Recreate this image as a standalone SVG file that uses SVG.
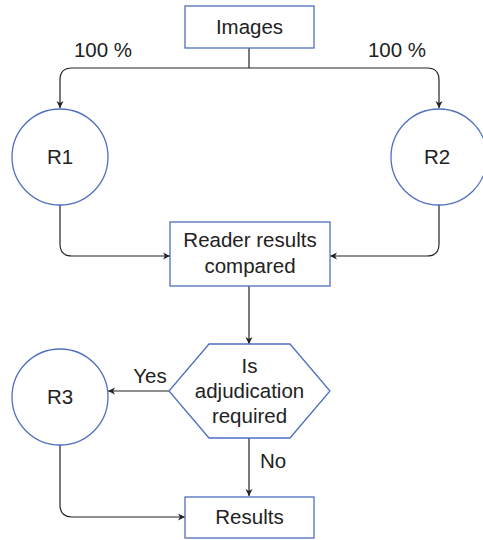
<svg xmlns="http://www.w3.org/2000/svg" width="483" height="540" viewBox="0 0 483 540">
  <defs>
    <marker id="arrow" markerWidth="10" markerHeight="10" refX="8" refY="5" orient="auto" markerUnits="userSpaceOnUse">
      <path d="M1,1.5 L8,5 L1,8.5 L3,5 Z" fill="#222"/>
    </marker>
    <style>
      .box { fill: #fff; stroke: #4f6fc0; stroke-width: 1.3; }
      .lbl { font-family: "Liberation Sans", Arial, sans-serif; font-size: 20.5px; fill: #222; text-anchor: middle; }
      .edge { fill: none; stroke: #222; stroke-width: 1.2; }
    </style>
  </defs>
  <rect width="483" height="540" fill="#fff"/>

  <g id="connectors">
    <path class="edge" d="M249,48 V68"/>
    <path class="edge" d="M249,68 H72 Q60,68 60,80 V108" marker-end="url(#arrow)"/>
    <path class="edge" d="M249,68 H427 Q439,68 439,80 V108" marker-end="url(#arrow)"/>
    <path class="edge" d="M60,205 V244 Q60,256 72,256 H170" marker-end="url(#arrow)"/>
    <path class="edge" d="M439,205 V244 Q439,256 427,256 H330" marker-end="url(#arrow)"/>
    <path class="edge" d="M249,286 V344" marker-end="url(#arrow)"/>
    <path class="edge" d="M169,391 H108" marker-end="url(#arrow)"/>
    <path class="edge" d="M249,438 V496" marker-end="url(#arrow)"/>
    <path class="edge" d="M60,445 V505 Q60,517 72,517 H185" marker-end="url(#arrow)"/>
    <text class="lbl" x="103" y="57">100 %</text>
    <text class="lbl" x="397" y="57">100 %</text>
    <text class="lbl" x="150" y="383">Yes</text>
    <text class="lbl" x="273" y="468">No</text>
  </g>

  <g id="images">
    <rect class="box" x="185" y="6" width="129" height="42"/>
    <text class="lbl" x="249.5" y="34">Images</text>
  </g>
  <g id="r1">
    <circle class="box" cx="60" cy="157" r="48"/>
    <text class="lbl" x="60" y="164">R1</text>
  </g>
  <g id="r2">
    <circle class="box" cx="439" cy="157" r="48"/>
    <text class="lbl" x="437" y="164">R2</text>
  </g>
  <g id="compare">
    <rect class="box" x="170" y="222" width="160" height="64"/>
    <text class="lbl" x="250" y="247">Reader results</text>
    <text class="lbl" x="250" y="273">compared</text>
  </g>
  <g id="decision">
    <polygon class="box" points="209,344 290,344 330,391 290,438 209,438 169,391"/>
    <text class="lbl" x="249.5" y="373">Is</text>
    <text class="lbl" x="249.5" y="398">adjudication</text>
    <text class="lbl" x="249.5" y="423">required</text>
  </g>
  <g id="r3">
    <circle class="box" cx="60" cy="397" r="48"/>
    <text class="lbl" x="60" y="404">R3</text>
  </g>
  <g id="results">
    <rect class="box" x="185" y="497" width="129" height="41"/>
    <text class="lbl" x="249.5" y="524">Results</text>
  </g>
</svg>
